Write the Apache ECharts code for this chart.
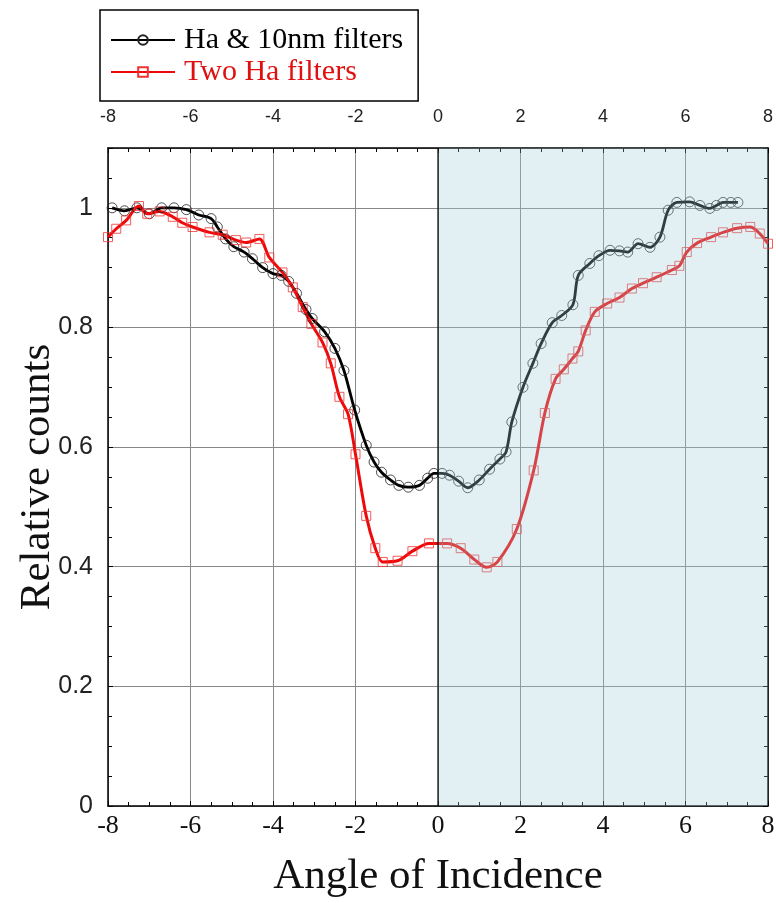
<!DOCTYPE html>
<html>
<head>
<meta charset="utf-8">
<script src="https://cdn.jsdelivr.net/npm/echarts@6/dist/echarts.min.js"></script>
<style>
html,body{margin:0;padding:0;background:#fff;}
#chart{width:776px;height:903px;}
</style>
</head>
<body>
<div id="chart"></div>
<script>
// ---- data ----
var seriesNames = ['Ha & 10nm filters', 'Two Ha filters'];
var angleBlack = [-7.9,-7.6,-7.3,-7.0,-6.7,-6.4,-6.1,-5.8,-5.5,-5.35,-5.15,-4.95,-4.7,-4.5,-4.25,-4.0,-3.8,-3.62,-3.43,-3.2,-3.05,-2.75,-2.5,-2.28,-2.02,-1.74,-1.55,-1.37,-1.15,-0.95,-0.72,-0.45,-0.25,-0.1,0.1,0.28,0.5,0.72,1.0,1.25,1.5,1.65,1.79,2.06,2.3,2.5,2.77,3.0,3.27,3.4,3.68,3.9,4.17,4.4,4.6,4.85,5.14,5.38,5.58,5.79,6.1,6.35,6.59,6.75,6.91,7.1,7.27];
var countsBlack = [1.0,0.995,1.0,0.99,1.0,1.0,0.997,0.988,0.982,0.968,0.948,0.935,0.926,0.915,0.9,0.89,0.887,0.877,0.857,0.83,0.815,0.793,0.765,0.728,0.662,0.603,0.575,0.558,0.545,0.536,0.533,0.536,0.548,0.556,0.556,0.553,0.543,0.532,0.545,0.563,0.58,0.592,0.642,0.70,0.74,0.773,0.808,0.82,0.838,0.887,0.907,0.92,0.929,0.928,0.926,0.94,0.934,0.951,0.996,1.009,1.01,1.004,0.999,1.004,1.009,1.009,1.009];
var angleRed = [-8.0,-7.8,-7.56,-7.25,-7.05,-6.75,-6.43,-6.2,-5.95,-5.54,-5.22,-4.9,-4.65,-4.33,-4.09,-3.77,-3.52,-3.28,-3.07,-2.8,-2.6,-2.39,-2.18,-2.0,-1.74,-1.52,-1.34,-0.98,-0.62,-0.22,0.22,0.55,0.88,1.18,1.44,1.91,2.32,2.59,2.85,3.05,3.26,3.4,3.58,3.8,4.1,4.4,4.7,4.97,5.3,5.67,5.85,6.03,6.28,6.62,6.91,7.25,7.57,7.8,8.0];
var countsRed = [0.951,0.965,0.979,1.003,0.99,0.994,0.985,0.975,0.968,0.959,0.955,0.946,0.942,0.948,0.917,0.892,0.867,0.834,0.806,0.775,0.74,0.684,0.655,0.588,0.485,0.431,0.408,0.41,0.426,0.439,0.439,0.431,0.412,0.399,0.408,0.463,0.561,0.657,0.714,0.73,0.748,0.76,0.795,0.826,0.84,0.85,0.865,0.874,0.884,0.896,0.903,0.926,0.941,0.951,0.959,0.966,0.968,0.957,0.94];
var xRange = [-8, 8];
var xInterval = 2;
var yRange = [0, 1.1];
var yInterval = 0.2;
var shadedRange = [0, 8];

function zip(a, b) { return a.map(function (v, i) { return [v, b[i]]; }); }

var chart = echarts.init(document.getElementById('chart'), null, {renderer: 'canvas'});
var serif = "'Liberation Serif', 'Times New Roman', serif";
var sans = "'Liberation Sans', Arial, sans-serif";

var option = {
  animation: false,
  backgroundColor: '#fff',
  grid: {left: 108, right: 8, top: 148, bottom: 97, show: false, containLabel: false, outerBoundsMode: 'none'},
  legend: {
    orient: 'vertical',
    left: 100, top: 10,
    backgroundColor: '#fff',
    borderColor: '#000', borderWidth: 1.5,
    padding: [15, 15, 14, 10],
    itemGap: 2,
    itemWidth: 64, itemHeight: 12,
    textStyle: {fontFamily: serif, fontSize: 30, padding: [0, 0, 0, 4]},
    data: [
      {name: seriesNames[0], textStyle: {color: '#000'}},
      {name: seriesNames[1], textStyle: {color: '#e01010'}}
    ]
  },
  xAxis: [{
    type: 'value', position: 'bottom',
    min: xRange[0], max: xRange[1], interval: xInterval,
    name: 'Angle of Incidence', nameLocation: 'middle', nameGap: 49,
    nameTextStyle: {fontFamily: serif, fontSize: 43, color: '#111'},
    axisLine: {show: true, onZero: false, lineStyle: {color: '#000', width: 1.5}},
    axisTick: {show: true, inside: true, length: 5, lineStyle: {color: '#000'}},
    minorTick: {show: true, splitNumber: 4, length: 4, lineStyle: {color: '#000'}},
    axisLabel: {fontFamily: serif, fontSize: 26, color: '#111', margin: 7},
    splitLine: {show: true, lineStyle: {color: '#888', width: 1}}
  }, {
    type: 'value', position: 'top',
    min: xRange[0], max: xRange[1], interval: xInterval,
    axisLine: {show: true, onZero: false, lineStyle: {color: '#000', width: 1.5}},
    axisTick: {show: true, inside: true, length: 5, lineStyle: {color: '#000'}},
    minorTick: {show: true, splitNumber: 4, length: 4, lineStyle: {color: '#000'}},
    axisLabel: {fontFamily: sans, fontSize: 18, color: '#222', margin: 22},
    splitLine: {show: false}
  }],
  yAxis: [{
    type: 'value', position: 'left',
    min: yRange[0], max: yRange[1], interval: yInterval,
    name: 'Relative counts', nameLocation: 'middle', nameGap: 49, nameMoveOverlap: false,
    nameTextStyle: {fontFamily: serif, fontSize: 43, color: '#111'},
    axisLine: {show: true, onZero: false, lineStyle: {color: '#000', width: 1.5}},
    axisTick: {show: true, inside: true, length: 5, lineStyle: {color: '#000'}},
    minorTick: {show: true, splitNumber: 4, length: 4, lineStyle: {color: '#000'}},
    axisLabel: {fontFamily: sans, fontSize: 25, color: '#222', margin: 15, showMaxLabel: false},
    splitLine: {show: true, lineStyle: {color: '#888', width: 1}}
  }, {
    type: 'value', position: 'right',
    min: yRange[0], max: yRange[1], interval: yInterval,
    axisLine: {show: true, onZero: false, lineStyle: {color: '#000', width: 1.5}},
    axisTick: {show: true, inside: true, length: 5, lineStyle: {color: '#000'}},
    minorTick: {show: true, splitNumber: 4, length: 4, lineStyle: {color: '#000'}},
    axisLabel: {show: false},
    splitLine: {show: false}
  }],
  series: [{
    name: seriesNames[0], type: 'line', z: 2,
    data: zip(angleBlack, countsBlack),
    smooth: 0.3,
    symbol: 'circle', symbolSize: 10,
    itemStyle: {color: 'rgba(255,255,255,0)', borderColor: '#222', borderWidth: 0.8},
    lineStyle: {color: '#000', width: 2.8}
  }, {
    name: seriesNames[1], type: 'line', z: 2,
    data: zip(angleRed, countsRed),
    smooth: 0.3,
    symbol: 'rect', symbolSize: 9,
    itemStyle: {color: 'rgba(255,255,255,0)', borderColor: '#ee3333', borderWidth: 0.8},
    lineStyle: {color: '#ee0a0a', width: 3}
  }, {
    type: 'custom', z: 5, silent: true,
    data: [[shadedRange[0], shadedRange[1]]],
    renderItem: function (params, api) {
      var p0 = api.coord([api.value(0), yRange[1]]);
      var p1 = api.coord([api.value(1), yRange[0]]);
      return {
        type: 'group',
        children: [{
          type: 'rect',
          shape: {x: p0[0], y: p0[1], width: p1[0] - p0[0], height: p1[1] - p0[1]},
          style: {fill: 'rgba(160,206,216,0.3)'}
        }, {
          type: 'line',
          shape: {x1: p0[0], y1: p0[1], x2: p0[0], y2: p1[1]},
          style: {stroke: '#000', lineWidth: 1.2}
        }]
      };
    }
  }]
};
chart.setOption(option);
</script>
</body>
</html>
